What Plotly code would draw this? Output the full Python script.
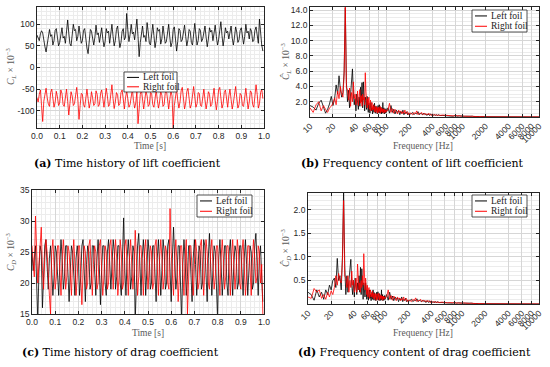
import plotly.graph_objects as go

# ---------------- data ----------------
time_s = [round(i * 0.005, 3) for i in range(200)]

lift_left = [
    75, 70, 62, 78, 85, 80, 60, 48, 36, 55,
    80, 88, 72, 76, 52, 62, 86, 90, 70, 50,
    58, 82, 92, 68, 72, 56, 94, 110, 80, 55,
    50, 75, 100, 85, 88, 62, 72, 96, 78, 56,
    62, 86, 90, 64, 45, 32, 60, 88, 84, 60,
    52, 70, 98, 76, 80, 58, 82, 92, 66, 48,
    60, 90, 80, 84, 56, 76, 100, 72, 50, 62,
    88, 96, 70, 46, 58, 84, 90, 64, 70, 125,
    88, 60, 76, 100, 78, 82, 64, 90, 112, 72,
    25, 58, 84, 96, 70, 74, 60, 104, 82, 56,
    52, 78, 100, 74, 46, 62, 92, 84, 88, 54,
    66, 96, 80, 56, 60, 84, 100, 70, 48, 58,
    88, 94, 66, 38, 60, 90, 86, 60, 64, 80,
    98, 72, 50, 64, 88, 84, 58, 52, 78, 102,
    76, 52, 62, 90, 86, 60, 66, 84, 96, 70,
    48, 66, 92, 82, 86, 62, 86, 98, 72, 52,
    64, 90, 106, 74, 50, 68, 92, 80, 84, 66,
    88, 96, 68, 52, 70, 94, 82, 58, 64, 86,
    92, 66, 54, 72, 100, 80, 84, 66, 90, 84,
    60, 62, 86, 94, 70, 56, 112, 78, 52, 38,
]
lift_right = [
    -70, -80, -62, -52, -88, -125, -78, -60, -48, -70,
    -85, -90, -58, -50, -72, -92, -80, -55, -68, -88,
    -82, -52, -60, -86, -90, -62, -50, -78, -110, -84,
    -56, -66, -88, -84, -58, -46, -74, -120, -88, -60,
    -62, -86, -92, -66, -50, -72, -94, -80, -56, -70,
    -88, -84, -54, -62, -90, -86, -60, -52, -78, -92,
    -70, -48, -66, -90, -86, -56, -40, -72, -95, -80,
    -58, -64, -88, -84, -58, -52, -80, -96, -70, -55,
    -72, -92, -86, -60, -50, -76, -94, -82, -56, -130,
    -88, -62, -52, -80, -96, -74, -54, -66, -90, -86,
    -58, -60, -86, -92, -68, -52, -74, -94, -80, -55,
    -64, -90, -86, -60, -52, -78, -96, -74, -54, -66,
    -140, -88, -62, -50, -76, -94, -80, -54, -46, -72,
    -96, -82, -56, -48, -70, -94, -86, -58, -44, -68,
    -92, -84, -58, -60, -88, -90, -64, -50, -74, -96,
    -80, -56, -62, -90, -86, -60, -48, -76, -98, -78,
    -52, -46, -72, -94, -84, -58, -52, -82, -92, -66,
    -50, -74, -96, -82, -56, -44, -70, -94, -86, -60,
    -64, -88, -90, -62, -48, -72, -96, -80, -54, -58,
    -86, -92, -66, -40, -62, -94, -84, -58, -50, -72,
]
drag_left = [
    25, 22, 24, 26, 20, 14, 22, 26, 25, 16,
    21, 26, 27, 23, 19, 24, 26, 22, 18, 21,
    26, 25, 20, 18, 23, 27, 24, 19, 21, 26,
    26, 22, 17, 22, 26, 25, 20, 18, 24, 26,
    24, 18, 21, 26, 27, 22, 17, 23, 26, 25,
    19, 20, 26, 26, 21, 18, 24, 27, 23, 16.5,
    22, 26, 26, 20, 18, 25, 27, 22, 19, 23,
    27, 25, 19, 21, 26, 26, 20, 18, 25, 30.5,
    22, 18, 24, 27, 24, 19, 21, 26, 25, 14,
    20, 26, 28, 22, 18, 24, 27, 24, 18, 22,
    27, 25, 19, 20, 26, 26, 21, 17, 24, 27,
    23, 18, 22, 27, 25, 19, 20, 26, 27, 22,
    17, 24, 29, 24, 19, 21, 26, 26, 20, 14,
    23, 27, 24, 18, 21, 26, 26, 20, 17, 24,
    27, 23, 18, 22, 26, 25, 19, 20, 27, 26,
    21, 17, 24, 28, 23, 18, 22, 26, 25, 19,
    14, 24, 27, 23, 18, 21, 26, 26, 20, 18,
    25, 27, 22, 18, 23, 26, 25, 19, 20, 26,
    26, 21, 18, 24, 27, 23, 18, 22, 26, 25,
    19, 20, 26, 28, 22, 18, 24, 26, 21, 17,
]
drag_right = [
    26, 24, 21, 30.8, 25, 20, 23, 27, 29, 22,
    19, 24, 27, 25, 20, 18, 15, 25, 27, 23,
    19, 21, 26, 26, 21, 18, 24, 27, 24, 19,
    21, 26, 25, 20, 18, 24, 27, 23, 18, 21,
    26, 26, 21, 16.5, 22, 26, 25, 19, 20, 26,
    27, 22, 18, 23, 26, 25, 19, 20, 26, 27,
    23, 18, 21, 26, 25, 19, 20, 26, 27, 22,
    19, 24, 27, 24, 18, 21, 27, 25, 19, 20,
    26, 27, 22, 18, 24, 27, 23, 19, 22, 28.5,
    24, 18, 21, 26, 26, 21, 18, 25, 27, 23,
    19, 22, 26, 25, 19, 20, 26, 27, 22, 18,
    24, 27, 24, 19, 21, 26, 25, 20, 19, 32,
    25, 20, 18, 24, 27, 23, 17, 21, 26, 26,
    21, 18, 24, 27, 15, 20, 26, 26, 21, 18,
    23, 27, 25, 19, 20, 26, 27, 22, 18, 22,
    27, 25, 20, 19, 25, 27, 23, 19, 21, 26,
    26, 21, 18, 24, 27, 24, 19, 21, 26, 26,
    21, 18, 24, 27, 23, 19, 22, 27, 25, 20,
    19, 25, 27, 23, 18, 21, 26, 26, 21, 18,
    24, 27, 24, 20, 21, 26, 25, 20, 23, 15,
]

freq_hz = (list(range(10, 101)) + list(range(105, 201, 5)) + list(range(210, 501, 10))
           + list(range(550, 2001, 50)) + [2500, 3000, 5000, 10000])

lift_spec_left = (
    [1.5, 1.3, 0.9, 1.8, 2.2, 1.2, 0.5, 1.0, 1.7, 2.7,
     1.5, 2.4, 4.2, 3.0, 5.4, 3.6, 2.6, 3.2, 6.0, 14.3,
     4.5, 2.0, 3.5, 1.2, 2.8, 3.8, 6.3, 3.0, 1.6, 2.4,
     0.8, 3.0, 2.2, 1.0, 2.6, 1.4, 3.9, 2.0, 4.5, 1.2,
     4.6, 1.8, 0.8, 2.6, 2.2, 1.0, 2.7, 1.5, 0.6, 1.8,
     1.2, 0.5, 1.5, 1.9, 0.8, 1.2, 0.4, 1.3, 1.6, 0.6,
     1.8, 0.9, 0.5, 1.4, 0.8, 1.0, 0.4, 1.2, 1.5, 0.6,
     0.9, 1.6, 0.5, 1.0, 0.7, 1.3, 0.4, 0.9, 1.1, 0.5,
     1.9, 0.6, 0.8, 1.2, 0.4, 0.9, 1.0, 0.5, 0.8, 1.1,
     0.6]
    + [1.2, 0.5, 1.5, 0.6, 1.0, 0.4, 0.9, 0.6, 0.8, 0.3,
       0.7, 0.5, 0.9, 0.3, 0.6, 0.5, 0.7, 0.3, 0.5, 0.4]
    + [0.4, 0.6, 0.3, 0.5, 0.4, 0.7, 0.3, 0.5, 0.4, 0.3,
       0.5, 0.3, 0.4, 0.2, 0.4, 0.3, 0.2, 0.4, 0.3, 0.2,
       0.3, 0.2, 0.3, 0.2, 0.3, 0.2, 0.2, 0.3, 0.2, 0.2]
    + [0.2, 0.15, 0.2, 0.15, 0.1, 0.2, 0.1, 0.15, 0.1, 0.15,
       0.1, 0.1, 0.12, 0.08, 0.1, 0.08, 0.1, 0.06, 0.08, 0.06,
       0.07, 0.05, 0.06, 0.05, 0.05, 0.04, 0.05, 0.04, 0.04, 0.03]
    + [0.02, 0.02, 0.01, 0.01]
)
lift_spec_right = (
    [1.2, 0.6, 1.6, 2.0, 0.8, 1.5, 1.0, 0.6, 1.2, 1.4,
     1.8, 2.5, 1.6, 3.4, 2.4, 4.0, 3.0, 2.6, 5.5, 14.4,
     3.8, 3.6, 2.2, 3.8, 1.4, 3.2, 2.0, 4.6, 2.4, 3.0,
     1.6, 2.2, 3.4, 1.5, 2.6, 3.6, 1.8, 2.8, 1.4, 3.0,
     2.2, 2.6, 1.6, 5.8, 3.4, 2.0, 1.2, 2.4, 1.6, 2.6,
     1.0, 1.8, 2.2, 0.8, 1.5, 1.9, 0.9, 1.4, 1.0, 1.6,
     0.7, 1.3, 1.1, 0.6, 1.4, 0.9, 1.2, 0.5, 1.0, 1.3,
     0.6, 1.1, 0.8, 1.4, 0.5, 0.9, 1.2, 0.7, 1.0, 0.6,
     1.1, 0.8, 1.0, 0.5, 0.9, 0.7, 1.0, 0.6, 0.8, 0.9,
     0.7]
    + [0.9, 1.8, 0.6, 1.1, 0.5, 1.0, 0.7, 0.4, 0.9, 0.6,
       0.8, 0.4, 0.7, 0.5, 0.9, 0.4, 0.6, 0.7, 0.3, 0.5]
    + [0.5, 0.3, 0.6, 0.4, 0.8, 0.3, 0.5, 0.4, 0.6, 0.3,
       0.4, 0.5, 0.3, 0.4, 0.3, 0.5, 0.3, 0.3, 0.2, 0.4,
       0.3, 0.2, 0.3, 0.3, 0.2, 0.3, 0.2, 0.2, 0.3, 0.2]
    + [0.25, 0.2, 0.15, 0.2, 0.15, 0.18, 0.12, 0.15, 0.12, 0.1,
       0.14, 0.1, 0.1, 0.12, 0.08, 0.1, 0.07, 0.09, 0.06, 0.07,
       0.05, 0.06, 0.05, 0.05, 0.04, 0.05, 0.04, 0.03, 0.04, 0.03]
    + [0.02, 0.02, 0.01, 0.01]
)
drag_spec_left = (
    [0.25, 0.2, 0.08, 0.3, 0.15, 0.25, 0.1, 0.3, 0.2, 0.4,
     0.3, 0.5, 0.55, 0.35, 0.97, 0.5, 0.6, 0.3, 1.0, 2.4,
     0.8, 0.2, 0.6, 0.25, 0.5, 0.7, 0.95, 0.4, 0.2, 0.5,
     0.15, 0.55, 0.35, 0.2, 0.45, 0.3, 0.6, 0.25, 0.78, 0.2,
     0.75, 0.3, 0.1, 0.45, 0.35, 0.15, 0.45, 0.25, 0.1, 0.3,
     0.2, 0.08, 0.25, 0.3, 0.12, 0.2, 0.07, 0.22, 0.26, 0.1,
     0.3, 0.15, 0.08, 0.24, 0.13, 0.17, 0.07, 0.2, 0.25, 0.1,
     0.15, 0.26, 0.08, 0.17, 0.12, 0.22, 0.07, 0.15, 0.18, 0.08,
     0.3, 0.1, 0.13, 0.2, 0.07, 0.15, 0.17, 0.08, 0.13, 0.18,
     0.1]
    + [0.2, 0.08, 0.25, 0.1, 0.17, 0.07, 0.15, 0.1, 0.13, 0.05,
       0.12, 0.08, 0.15, 0.05, 0.1, 0.08, 0.12, 0.05, 0.08, 0.07]
    + [0.07, 0.1, 0.05, 0.08, 0.07, 0.11, 0.05, 0.08, 0.07, 0.05,
       0.08, 0.05, 0.07, 0.03, 0.07, 0.05, 0.03, 0.07, 0.05, 0.03,
       0.05, 0.03, 0.05, 0.03, 0.05, 0.03, 0.03, 0.05, 0.03, 0.03]
    + [0.03, 0.025, 0.03, 0.025, 0.017, 0.03, 0.017, 0.025, 0.017, 0.025,
       0.017, 0.017, 0.02, 0.013, 0.017, 0.013, 0.017, 0.01, 0.013, 0.01,
       0.012, 0.008, 0.01, 0.008, 0.008, 0.007, 0.008, 0.007, 0.007, 0.005]
    + [0.004, 0.003, 0.002, 0.001]
)
drag_spec_right = (
    [0.15, 0.12, 0.33, 0.25, 0.3, 0.12, 0.2, 0.1, 0.25, 0.15,
     0.28, 0.2, 0.35, 0.6, 0.4, 0.65, 0.5, 0.45, 0.9, 2.2,
     0.6, 0.55, 0.35, 0.6, 0.25, 0.5, 0.35, 0.7, 0.4, 0.5,
     0.25, 0.35, 0.55, 0.25, 0.85, 0.6, 0.3, 0.45, 0.25, 0.5,
     0.35, 0.6, 0.4, 1.07, 0.5, 0.3, 0.55, 0.3, 0.2, 0.4,
     0.15, 0.3, 0.35, 0.12, 0.25, 0.3, 0.15, 0.23, 0.16, 0.27,
     0.12, 0.22, 0.18, 0.1, 0.23, 0.15, 0.2, 0.08, 0.17, 0.22,
     0.1, 0.18, 0.13, 0.23, 0.08, 0.15, 0.2, 0.12, 0.17, 0.1,
     0.18, 0.13, 0.17, 0.08, 0.15, 0.12, 0.17, 0.1, 0.13, 0.15,
     0.12]
    + [0.15, 0.3, 0.1, 0.18, 0.08, 0.17, 0.12, 0.07, 0.15, 0.1,
       0.13, 0.07, 0.12, 0.08, 0.15, 0.07, 0.1, 0.12, 0.05, 0.08]
    + [0.08, 0.05, 0.1, 0.07, 0.13, 0.05, 0.08, 0.07, 0.1, 0.05,
       0.07, 0.08, 0.05, 0.07, 0.05, 0.08, 0.05, 0.05, 0.03, 0.07,
       0.05, 0.03, 0.05, 0.05, 0.03, 0.05, 0.03, 0.03, 0.05, 0.03]
    + [0.04, 0.03, 0.025, 0.03, 0.025, 0.03, 0.02, 0.025, 0.02, 0.017,
       0.023, 0.017, 0.017, 0.02, 0.013, 0.017, 0.012, 0.015, 0.01, 0.012,
       0.008, 0.01, 0.008, 0.008, 0.007, 0.008, 0.007, 0.005, 0.007, 0.005]
    + [0.004, 0.003, 0.002, 0.001]
)

time_ticks = [round(i * 0.1, 1) for i in range(11)]
freq_ticks = [10, 20, 40, 60, 80, 100, 200, 400, 600, 800, 1000, 2000, 4000, 6000, 8000, 10000]
lift_ticks = [-100, -50, 0, 50, 100]
series_names = ["Left foil", "Right foil"]
series_colors = ["#000000", "#ff0000"]
captions = [
    "<b>(a)</b> Time history of lift coefficient",
    "<b>(b)</b> Frequency content of lift coefficient",
    "<b>(c)</b> Time history of drag coefficient",
    "<b>(d)</b> Frequency content of drag coefficient",
]
y_titles = [
    "<i>C</i><sub><i>L</i></sub> × 10<sup>−3</sup>",
    "<i>Ĉ</i><sub><i>L</i></sub> × 10<sup>−3</sup>",
    "<i>C</i><sub><i>D</i></sub> × 10<sup>−3</sup>",
    "<i>Ĉ</i><sub><i>D</i></sub> × 10<sup>−3</sup>",
]
x_titles = ["Time [s]", "Frequency [Hz]", "Time [s]", "Frequency [Hz]"]

# ---------------- figure ----------------
W, H = 550, 367
SANS = "Liberation Sans, Arial, sans-serif"
SERIF = "Liberation Serif, Times New Roman, serif"
CAPF = "DejaVu Serif, serif"
AXC = "#262626"
TITC = "#5a5a5a"


def px_x(v):
    return v / W


def px_y(v):
    return 1 - v / H


fig = go.Figure()

panels = [
    ("x", "y", time_s, [lift_left, lift_right]),
    ("x2", "y2", freq_hz, [lift_spec_left, lift_spec_right]),
    ("x3", "y3", time_s, [drag_left, drag_right]),
    ("x4", "y4", freq_hz, [drag_spec_left, drag_spec_right]),
]
for xa, ya, xs, ys_list in panels:
    for name, col, ys in zip(series_names, series_colors, ys_list):
        fig.add_trace(go.Scatter(
            x=xs, y=ys, mode="lines", name=name, xaxis=xa, yaxis=ya, showlegend=False,
            line=dict(color=col, width=0.8),
        ))

common = dict(
    showline=True, linecolor=AXC, linewidth=0.8, mirror="ticks",
    ticks="inside", ticklen=3, tickcolor=AXC, tickwidth=0.6,
    showgrid=True, gridcolor="#d6d6d6", gridwidth=0.6,
    zeroline=False, tickfont=dict(family=SANS, size=8.5, color=AXC),
    automargin=False,
)
minor_grid = "#ececec"

# plot-area boxes in pixels: (x0, x1), (y_top, y_bottom)
boxes = [
    ((37, 264), (7, 128)),
    ((310, 539), (7, 117)),
    ((32, 264), (190, 314)),
    ((308, 539), (193, 304)),
]


def xd(i):
    return [px_x(boxes[i][0][0]), px_x(boxes[i][0][1])]


def yd(i):
    return [px_y(boxes[i][1][1]), px_y(boxes[i][1][0])]


fig.update_layout(
    width=W, height=H, margin=dict(l=0, r=0, t=0, b=0, autoexpand=False),
    paper_bgcolor="white", plot_bgcolor="white", showlegend=False,
    xaxis=dict(domain=xd(0), anchor="y", range=[0, 1], tickvals=time_ticks, tickformat=".1f",
               minor=dict(dtick=0.02, tick0=0, showgrid=True, gridcolor=minor_grid, ticks=""),
               **common),
    yaxis=dict(domain=yd(0), anchor="x", range=[-140, 140], tickvals=lift_ticks,
               ticktext=[str(v) for v in lift_ticks],
               minor=dict(dtick=10, tick0=0, showgrid=True, gridcolor=minor_grid, ticks=""),
               **common),
    xaxis2=dict(domain=xd(1), anchor="y2", type="log", range=[1, 4], tickvals=freq_ticks,
                ticktext=[str(v) for v in freq_ticks], tickangle=-45, **common),
    yaxis2=dict(domain=yd(1), anchor="x2", range=[0, 14.4], tickvals=[2, 4, 6, 8, 10, 12, 14],
                tickformat=".1f",
                minor=dict(dtick=0.5, tick0=0, showgrid=True, gridcolor=minor_grid, ticks=""),
                **common),
    xaxis3=dict(domain=xd(2), anchor="y3", range=[0, 1], tickvals=time_ticks, tickformat=".1f",
                minor=dict(dtick=0.02, tick0=0, showgrid=True, gridcolor=minor_grid, ticks=""),
                **common),
    yaxis3=dict(domain=yd(2), anchor="x3", range=[15, 35], tickvals=[15, 20, 25, 30, 35],
                minor=dict(dtick=1, tick0=0, showgrid=True, gridcolor=minor_grid, ticks=""),
                **common),
    xaxis4=dict(domain=xd(3), anchor="y4", type="log", range=[1, 4], tickvals=freq_ticks,
                ticktext=[str(v) for v in freq_ticks], tickangle=-45, **common),
    yaxis4=dict(domain=yd(3), anchor="x4", range=[0, 2.36], tickvals=[0.5, 1.0, 1.5, 2.0],
                tickformat=".1f",
                minor=dict(dtick=0.1, tick0=0, showgrid=True, gridcolor=minor_grid, ticks=""),
                **common),
)

# axis titles (placed as text)
x_title_pos = [(150, 146), (423, 146), (148, 333), (423, 333)]
y_title_pos = [(10, 67), (285, 62), (10, 252), (285, 248)]
for i in range(4):
    fig.add_annotation(text=x_titles[i], x=px_x(x_title_pos[i][0]), y=px_y(x_title_pos[i][1]),
                       xref="paper", yref="paper", showarrow=False,
                       xanchor="center", yanchor="middle",
                       font=dict(family=SERIF, size=9.5, color=TITC))
    fig.add_annotation(text=y_titles[i], x=px_x(y_title_pos[i][0]), y=px_y(y_title_pos[i][1]),
                       xref="paper", yref="paper", showarrow=False, textangle=-90,
                       xanchor="center", yanchor="middle",
                       font=dict(family=SERIF, size=9.5, color=TITC))

# legends drawn as boxes with line samples and labels
legend_boxes = [
    (124, 177, 72, 92),
    (472, 527, 10, 32),
    (197, 252, 195, 217),
    (472, 527, 195, 217),
]
for (bx0, bx1, by0, by1) in legend_boxes:
    fig.add_shape(type="rect", xref="paper", yref="paper",
                  x0=px_x(bx0), x1=px_x(bx1), y0=px_y(by1), y1=px_y(by0),
                  fillcolor="white", line=dict(color=AXC, width=0.8), layer="above")
    rows = [by0 + (by1 - by0) * 0.27, by0 + (by1 - by0) * 0.74]
    for name, col, ry in zip(series_names, series_colors, rows):
        fig.add_shape(type="line", xref="paper", yref="paper",
                      x0=px_x(bx0 + 3), x1=px_x(bx0 + 15), y0=px_y(ry), y1=px_y(ry),
                      line=dict(color=col, width=1), layer="above")
        fig.add_annotation(text=name, x=px_x(bx0 + 17), y=px_y(ry), xref="paper", yref="paper",
                           showarrow=False, xanchor="left", yanchor="middle",
                           font=dict(family=SERIF, size=9.5, color="#222222"))

cap_pos = [(127, 163), (412, 163), (120, 352), (414, 352)]
for text, (cx, cy) in zip(captions, cap_pos):
    fig.add_annotation(text=text, x=px_x(cx), y=px_y(cy), xref="paper", yref="paper",
                       showarrow=False, xanchor="center", yanchor="middle",
                       font=dict(family=CAPF, size=11, color="black"))

fig.write_html("out.html", config={"displayModeBar": False},
               post_script="document.body.style.margin='0px';")
